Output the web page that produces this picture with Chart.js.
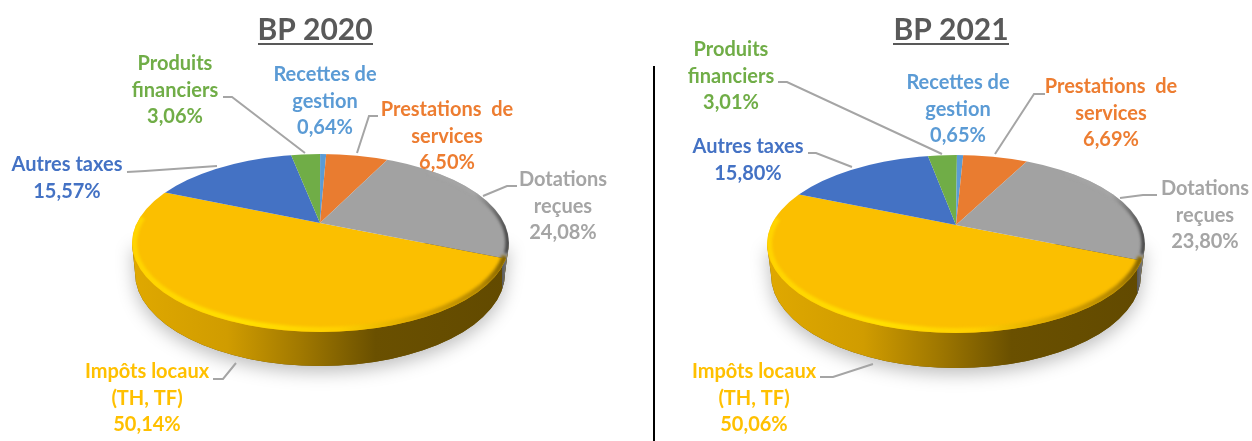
<!DOCTYPE html>
<html>
<head>
<meta charset="utf-8">
<title>BP 2020 / BP 2021</title>
<script src="https://cdn.jsdelivr.net/npm/chart.js@4"></script>
<style>
  html, body { margin: 0; padding: 0; background: #fff; overflow: hidden; }
  #wrap { position: relative; width: 1252px; height: 441px; }
  canvas { position: absolute; top: 0; }
  #chartLeft { left: 0; }
  #chartRight { left: 640px; }
  #sep { position: absolute; left: 653px; top: 66px; width: 2px; height: 375px; background: #000; }
</style>
</head>
<body>
<div id="wrap">
  <canvas id="chartLeft" width="640" height="441"></canvas>
  <canvas id="chartRight" width="612" height="441"></canvas>
  <div id="sep"></div>
</div>
<script>
var categories = [
  ["Impôts locaux", "(TH, TF)"],
  ["Autres taxes"],
  ["Produits", "financiers"],
  ["Recettes de", "gestion"],
  ["Prestations  de", "services"],
  ["Dotations", "reçues"]
];
var values2020 = [50.14, 15.57, 3.06, 0.64, 6.50, 24.08];
var values2021 = [50.06, 15.80, 3.01, 0.65, 6.69, 23.80];
var colors = ["#FBBF00", "#4472C4", "#70AD47", "#5B9BD5", "#E97C30", "#A2A2A2"];
var labelColors = ["#FFC000", "#4472C4", "#70AD47", "#5B9BD5", "#ED7D31", "#A5A5A5"];

// perspective of the pie: slices are drawn by the library, then squeezed by this matrix
var tilt = [1, 0.192, -0.413, 0.453];
var tiltScale = 2.5;

var layout2020 = {
  left: 0, title: "BP 2020", titleX: 315, lineX: [258, 373], lineY: 44,
  apex: [320, 223],
  top: { x: 320.5, y: 243, rx: 188.5, ry: 89 },
  bottom: { x: 320, y: 273, rx: 185, ry: 93 },
  split: 500,
  // centre x, y of first line, one per category
  labels: [[147, 372], [67, 165], [175, 64], [325, 75], [447, 110], [563, 180]],
  leaders: [
    [[213, 379], [223, 379], [236, 363]],
    [[127, 172], [145, 171], [217, 166]],
    [[223, 97], [232, 97], [305, 153]],
    null,
    [[378, 116], [369, 116], [357, 153]],
    [[517, 186], [507, 186], [483, 196]]
  ]
};
var layout2021 = {
  left: 640, title: "BP 2021", titleX: 951, lineX: [893, 1009], lineY: 44,
  apex: [956, 225],
  top: { x: 956, y: 244, rx: 189, ry: 89 },
  bottom: { x: 956, y: 275, rx: 185, ry: 93 },
  split: 1135,
  labels: [[754, 372], [748, 147], [731, 50], [958, 83], [1111, 87], [1205, 189]],
  leaders: [
    [[820, 377], [833, 377], [873, 364]],
    [[808, 153], [816, 153], [852, 167]],
    [[778, 82], [787, 82], [942, 154]],
    null,
    [[1045, 94], [1034, 94], [995, 154]],
    [[1157, 195], [1143, 195], [1120, 198]]
  ]
};

function sidePath(ctx, t, b) {
  ctx.beginPath();
  ctx.moveTo(t.x - t.rx, t.y);
  ctx.lineTo(b.x - b.rx, b.y);
  ctx.ellipse(b.x, b.y, b.rx, b.ry, 0, Math.PI, 0, true);
  ctx.lineTo(t.x + t.rx, t.y);
  ctx.closePath();
}

var pie3d = {
  id: "pie3d",
  beforeDatasetsDraw: function (chart, args, o) {
    var ctx = chart.ctx, t = o.top, b = o.bottom;
    ctx.save();
    ctx.translate(-o.left, 0);

    // soft shadow under the body
    ctx.save();
    ctx.shadowColor = "rgba(0,0,0,0.26)";
    ctx.shadowBlur = 18;
    ctx.shadowOffsetY = 6;
    sidePath(ctx, t, b);
    ctx.fillStyle = "#6A5000";
    ctx.fill();
    ctx.restore();

    // side of the pie
    var g = ctx.createLinearGradient(b.x - b.rx, 0, b.x + b.rx, 0);
    g.addColorStop(0, "#DFA800");
    g.addColorStop(0.25, "#D09C00");
    g.addColorStop(0.45, "#A07800");
    g.addColorStop(0.65, "#6A5000");
    g.addColorStop(1, "#624A00");
    sidePath(ctx, t, b);
    ctx.fillStyle = g;
    ctx.fill();

    ctx.save();
    ctx.beginPath();
    ctx.rect(o.split + 2, t.y - 10, 40, 80);
    ctx.clip();
    var g2 = ctx.createLinearGradient(o.split, 0, t.x + t.rx, 0);
    g2.addColorStop(0, "#4A4A4A");
    g2.addColorStop(1, "#8A8A8A");
    sidePath(ctx, t, b);
    ctx.fillStyle = g2;
    ctx.fill();
    ctx.restore();

    // top face: clip to the ellipse, tilt the library's circle around the apex
    ctx.beginPath();
    ctx.ellipse(t.x, t.y, t.rx, t.ry, 0, 0, Math.PI * 2);
    ctx.clip();
    var arc = chart.getDatasetMeta(0).data[0];
    ctx.translate(o.apex[0], o.apex[1]);
    ctx.transform(tilt[0] * tiltScale, tilt[1] * tiltScale, tilt[2] * tiltScale, tilt[3] * tiltScale, 0, 0);
    ctx.translate(-arc.x, -arc.y);
  },
  afterDatasetsDraw: function (chart, args, o) {
    var ctx = chart.ctx, t = o.top;
    ctx.restore();
    ctx.save();
    ctx.translate(-o.left, 0);

    // bevel around the front of the top face
    ctx.save();
    ctx.beginPath();
    ctx.ellipse(t.x, t.y, t.rx, t.ry, 0, 0, Math.PI * 2);
    ctx.clip();
    ctx.filter = "blur(1.6px)";
    var r = ctx.createLinearGradient(t.x - t.rx, 0, t.x + t.rx, 0);
    r.addColorStop(0, "#FFD400");
    r.addColorStop(0.3, "#FFE000");
    r.addColorStop(0.55, "#FFD000");
    r.addColorStop(0.75, "#DDA800");
    r.addColorStop(0.93, "#B08400");
    r.addColorStop(1, "#7A5C00");
    ctx.strokeStyle = r;
    ctx.lineWidth = 6;
    ctx.beginPath();
    ctx.ellipse(t.x, t.y, t.rx - 2, t.ry - 2, 0, 0.15, Math.PI + 0.3);
    ctx.stroke();

    var d = ctx.createLinearGradient(t.x + t.rx - 34, 0, t.x + t.rx, 0);
    d.addColorStop(0, "#A5A5A5");
    d.addColorStop(1, "#3A3A3A");
    ctx.strokeStyle = d;
    ctx.lineWidth = 4;
    ctx.beginPath();
    ctx.ellipse(t.x, t.y, t.rx - 1.5, t.ry - 1.5, 0, -0.95, 0.12);
    ctx.stroke();
    ctx.restore();

    // leader lines
    ctx.strokeStyle = "#A5A5A5";
    ctx.lineWidth = 2;
    o.leaders.forEach(function (pts) {
      if (!pts) return;
      ctx.beginPath();
      pts.forEach(function (p, i) {
        if (i === 0) ctx.moveTo(p[0], p[1]);
        else ctx.lineTo(p[0], p[1]);
      });
      ctx.stroke();
    });

    // labels
    ctx.textAlign = "center";
    ctx.textBaseline = "middle";
    ctx.font = "bold 20px Lato";
    var data = chart.data.datasets[0].data;
    categories.forEach(function (lines, i) {
      var all = lines.concat([data[i].toFixed(2).replace(".", ",") + "%"]);
      ctx.fillStyle = labelColors[i];
      all.forEach(function (txt, j) {
        ctx.fillText(txt, o.labels[i][0], o.labels[i][1] + j * 26.3);
      });
    });

    // title
    ctx.font = "bold 30px Lato";
    ctx.fillStyle = "#595959";
    ctx.fillText(o.title, o.titleX, 30);
    ctx.fillRect(o.lineX[0], o.lineY - 1, o.lineX[1] - o.lineX[0], 2);
    ctx.restore();
  }
};

function makePie(id, values, layout) {
  return new Chart(document.getElementById(id), {
    type: "pie",
    data: {
      labels: categories.map(function (c) { return c.join(" "); }),
      datasets: [{
        data: values,
        backgroundColor: colors,
        borderWidth: 0,
        clip: false
      }]
    },
    options: {
      responsive: false,
      animation: false,
      rotation: 90,
      plugins: {
        legend: { display: false },
        tooltip: { enabled: false },
        pie3d: layout
      }
    },
    plugins: [pie3d]
  });
}

makePie("chartLeft", values2020, layout2020);
makePie("chartRight", values2021, layout2021);
</script>
</body>
</html>
